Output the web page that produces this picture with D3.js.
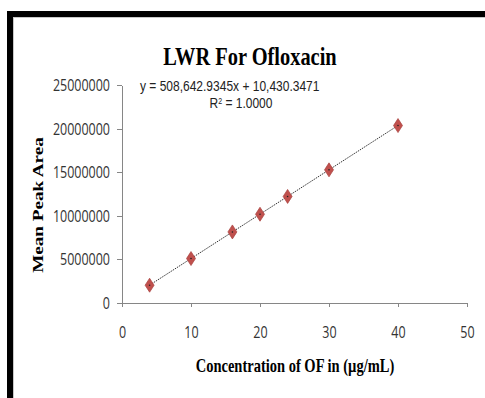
<!DOCTYPE html>
<html>
<head>
<meta charset="utf-8">
<script src="https://cdn.jsdelivr.net/npm/d3@7"></script>
<style>
  html, body { margin: 0; padding: 0; background: #fff; }
  svg { display: block; }
</style>
</head>
<body>
<script>
// values
const concentrations = [4, 10, 16, 20, 24, 30, 40];
const peakAreas = [2040000, 5100000, 8150000, 10180000, 12220000, 15270000, 20350000];
const xTicks = [0, 10, 20, 30, 40, 50];
const yTicks = [0, 5000000, 10000000, 15000000, 20000000, 25000000];
const slope = 508642.9345;
const intercept = 10430.3471;
const titleText = "LWR For Ofloxacin";
const xTitle = "Concentration of OF in (\u00b5g/mL)";
const yTitle = "Mean Peak Area";
const eqText = "y = 508,642.9345x + 10,430.3471";
const r2Text = "1.0000";

const width = 485;
const height = 398;
const stretch = 1.25; // the picture is a bit tall, text too

const svg = d3.select("body").append("svg")
    .attr("width", width)
    .attr("height", height);

svg.append("rect").attr("width", width).attr("height", height).attr("fill", "#fff");

// black frame (top + left)
svg.append("rect").attr("x", 7).attr("y", 11).attr("width", width - 7).attr("height", 6).attr("fill", "#000");
svg.append("rect").attr("x", 7).attr("y", 11).attr("width", 6).attr("height", height - 11).attr("fill", "#000");
svg.append("line").attr("x1", 13.5).attr("x2", 13.5).attr("y1", 17).attr("y2", height)
    .attr("stroke", "#c8c8c8").attr("stroke-width", 1);
svg.append("line").attr("x1", 13).attr("x2", width).attr("y1", 17.5).attr("y2", 17.5)
    .attr("stroke", "#c8c8c8").attr("stroke-width", 1);

const x = d3.scaleLinear().domain([0, 50]).range([122, 467]);
const y = d3.scaleLinear().domain([0, 25000000]).range([303, 85]);

const axisColor = "#868686";
const tickFont = "'Open Sans', 'DejaVu Sans', sans-serif";
const eqFont = "'Liberation Sans', Arial, sans-serif";

// x axis
const gx = svg.append("g")
    .attr("transform", "translate(0,303)")
    .call(d3.axisBottom(x).tickValues(xTicks).tickSize(4).tickSizeOuter(0));
gx.select(".domain").attr("stroke", axisColor);
gx.selectAll(".tick line").attr("stroke", axisColor);
gx.selectAll(".tick text")
    .attr("y", 0).attr("dy", 0)
    .attr("transform", "translate(0,34.5) scale(1," + stretch + ")")
    .attr("fill", "#333")
    .style("font-family", tickFont)
    .style("font-size", "12.5px");

// y axis
const gy = svg.append("g")
    .attr("transform", "translate(122,0)")
    .call(d3.axisLeft(y).tickValues(yTicks).tickSize(5).tickSizeOuter(0).tickPadding(7).tickFormat(d3.format("d")));
gy.select(".domain").attr("stroke", axisColor);
gy.selectAll(".tick line").attr("stroke", axisColor);
gy.selectAll(".tick text")
    .attr("dy", 0)
    .attr("transform", "translate(0,5.5) scale(1," + stretch + ")")
    .attr("fill", "#333")
    .style("font-family", tickFont)
    .style("font-size", "12.5px");

svg.selectAll(".domain, .tick line").attr("shape-rendering", "crispEdges");

// trendline
const xr = d3.extent(concentrations);
svg.append("path")
    .datum(xr.map(c => [c, slope * c + intercept]))
    .attr("d", d3.line().x(d => x(d[0])).y(d => y(d[1])))
    .attr("fill", "none")
    .attr("stroke", "#333")
    .attr("stroke-width", 1)
    .attr("stroke-dasharray", "1.5,1");

// diamond markers
const diamond = "M0,-7L4.5,0L0,7L-4.5,0Z";
svg.append("g").selectAll("path")
    .data(concentrations.map((c, i) => ({ c: c, v: peakAreas[i] })))
    .enter().append("path")
    .attr("d", diamond)
    .attr("transform", d => "translate(" + x(d.c) + "," + y(d.v) + ")")
    .attr("fill", "#C0504D")
    .attr("stroke", "#a8403d")
    .attr("stroke-width", 0.7);

svg.append("g").selectAll("circle")
    .data(concentrations)
    .enter().append("circle")
    .attr("cx", d => x(d))
    .attr("cy", (d, i) => y(peakAreas[i]))
    .attr("r", 0.8)
    .attr("fill", "#222");

// equation
svg.append("text")
    .attr("transform", "translate(140,90.5) scale(1," + stretch + ")")
    .attr("fill", "#222")
    .style("font-family", eqFont)
    .style("font-size", "12px")
    .text(eqText);

const r2 = svg.append("text")
    .attr("transform", "translate(241,108) scale(1," + stretch + ")")
    .attr("text-anchor", "middle")
    .attr("fill", "#222")
    .style("font-family", eqFont)
    .style("font-size", "12px");
r2.append("tspan").text("R");
r2.append("tspan").attr("dy", -3.5).style("font-size", "7px").text("2");
r2.append("tspan").attr("dy", 3.5).text(" = " + r2Text);

// titles
const serif = "'Liberation Serif', 'Times New Roman', serif";
svg.append("text")
    .attr("transform", "translate(250,65) scale(1," + stretch + ")")
    .attr("text-anchor", "middle")
    .attr("font-weight", "bold")
    .style("font-family", serif)
    .style("font-size", "20.4px")
    .text(titleText);

svg.append("text")
    .attr("transform", "translate(295,372) scale(1," + stretch + ")")
    .attr("text-anchor", "middle")
    .attr("font-weight", "bold")
    .style("font-family", serif)
    .style("font-size", "14.5px")
    .text(xTitle);

svg.append("text")
    .attr("transform", "translate(43,205) rotate(-90) scale(" + stretch + ",1)")
    .attr("text-anchor", "middle")
    .attr("font-weight", "bold")
    .style("font-family", serif)
    .style("font-size", "15.3px")
    .text(yTitle);
</script>
</body>
</html>
